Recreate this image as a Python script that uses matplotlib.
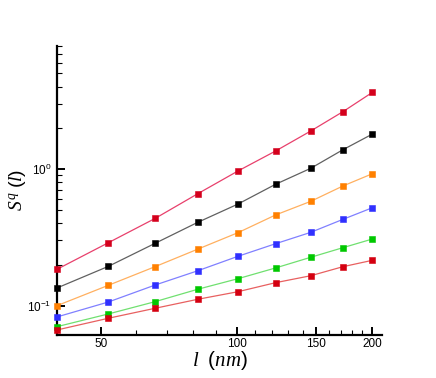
import matplotlib
matplotlib.use("Agg")
import matplotlib.pyplot as plt
from matplotlib.ticker import FixedLocator, NullFormatter, FixedFormatter

plt.rcParams['mathtext.fontset'] = 'custom'
plt.rcParams['mathtext.rm'] = 'Liberation Sans'
plt.rcParams['mathtext.it'] = 'Liberation Serif:italic'
plt.rcParams['mathtext.bf'] = 'Liberation Sans:bold'
plt.rcParams['font.family'] = ['Liberation Sans', 'DejaVu Sans']

l_nm = [40, 52, 66, 82, 100.7, 122, 146, 172, 200]

s1 = [0.1845, 0.289, 0.435, 0.659, 0.967, 1.354, 1.897, 2.626, 3.64]
s2 = [0.1347, 0.194, 0.286, 0.407, 0.554, 0.773, 1.012, 1.383, 1.803]
s3 = [0.100, 0.141, 0.193, 0.259, 0.342, 0.461, 0.580, 0.751, 0.924]
s4 = [0.0827, 0.1064, 0.1416, 0.180, 0.2297, 0.284, 0.344, 0.428, 0.521]
s5 = [0.0702, 0.087, 0.107, 0.1318, 0.1575, 0.1888, 0.226, 0.2656, 0.3075]
s6 = [0.0664, 0.0809, 0.0957, 0.1113, 0.1265, 0.1473, 0.1656, 0.1928, 0.2148]

series = [s1, s2, s3, s4, s5, s6]
marker_colors = ["#d4001c", "#000000", "#ff8000", "#3030ff", "#00c800", "#d40010"]
line_colors = ["#e8406c", "#606060", "#ffb060", "#8080ff", "#70e070", "#e86060"]

x_major = [50, 100, 150, 200]
x_major_labels = ["50", "100", "150", "200"]
x_minor = [60, 70, 80, 90, 110, 120, 130, 140, 160, 170, 180, 190]
y_major = [0.1, 1.0]
y_major_labels = [r"$\mathregular{10^{-1}}$", r"$\mathregular{10^{0}}$"]
y_minor = [0.2, 0.3, 0.4, 0.5, 0.6, 0.7, 0.8, 0.9, 2, 3, 4, 5, 6, 7, 8]

fig = plt.figure(figsize=(4.36, 3.78), dpi=100)
ax = fig.add_axes([57/436, 1-335/378, (382-57)/436, (335-45.6)/378])

for ys, mc, lc in zip(series, marker_colors, line_colors):
    ax.plot(l_nm, ys, '-', color=lc, lw=0.9, zorder=2)
    ax.plot(l_nm, ys, 's', color=mc, ms=4.2, mec=mc, mew=0.4, zorder=3, clip_on=False)

ax.set_xscale('log')
ax.set_yscale('log')
ax.set_xlim(40, 210)
ax.set_ylim(0.061, 8.0)

ax.xaxis.set_major_locator(FixedLocator(x_major))
ax.xaxis.set_major_formatter(FixedFormatter(x_major_labels))
ax.xaxis.set_minor_locator(FixedLocator(x_minor))
ax.xaxis.set_minor_formatter(NullFormatter())
ax.yaxis.set_major_locator(FixedLocator(y_major))
ax.yaxis.set_major_formatter(FixedFormatter(y_major_labels))
ax.yaxis.set_minor_locator(FixedLocator(y_minor))
ax.yaxis.set_minor_formatter(NullFormatter())

for s in ['top', 'right']:
    ax.spines[s].set_visible(False)
for s in ['left', 'bottom']:
    ax.spines[s].set_linewidth(1.6)

ax.tick_params(which='major', direction='in', length=6, width=1.4, labelsize=8.5,
               top=False, right=False)
ax.tick_params(axis='x', which='major', pad=2)
ax.tick_params(axis='y', which='major', pad=4)
ax.tick_params(which='minor', direction='in', length=3.5, width=0.8, top=False, right=False)

ax.set_xlabel(r"$l\ \ (nm)$", fontsize=15)
ax.set_ylabel(r"$S^q\ (l)$", fontsize=14)
ax.xaxis.set_label_coords(0.50, -0.048)
ax.yaxis.set_label_coords(-0.085, 0.50)

fig.savefig("out.png", dpi=100)
